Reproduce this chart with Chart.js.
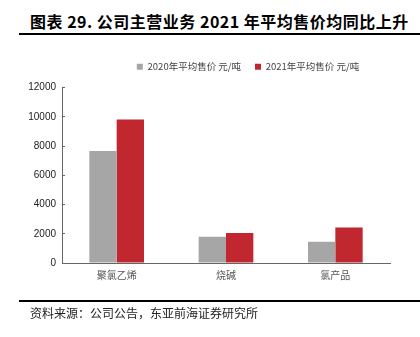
<!DOCTYPE html>
<html>
<head>
<meta charset="utf-8">
<script src="https://cdn.jsdelivr.net/npm/chart.js@4/dist/chart.umd.min.js"></script>
<style>
    body { margin: 0; width: 420px; height: 337px; background: #fff; position: relative; overflow: hidden; }
    #chartBox { position: absolute; left: 0; top: 0; width: 420px; height: 337px; }
    .title { position: absolute; left: 30px; top: 9px; line-height: 24px; font: bold 16px "Noto Sans CJK SC", sans-serif; color: #000; white-space: nowrap; letter-spacing: 0.5px; }
    .rule { position: absolute; left: 19px; right: 0; height: 2px; background: #000; }
    .source { position: absolute; left: 30px; top: 304px; font: 12px "Noto Sans CJK SC", serif; color: #222; white-space: nowrap; }
</style>
</head>
<body>
<div class="title">图表 29. 公司主营业务 2021 年平均售价均同比上升</div>
<div class="rule" style="top:33px"></div>
<div id="chartBox"><canvas id="priceChart"></canvas></div>
<div class="rule" style="top:300px"></div>
<div class="source">资料来源：公司公告，东亚前海证券研究所</div>
<script>
const categories = ['聚氯乙烯', '烧碱', '氯产品'];
const price2020 = [7650, 1790, 1450];
const price2021 = [9820, 2045, 2430];
const yTicks = [0, 2000, 4000, 6000, 8000, 10000, 12000];

// the legend sits right of centre in the source picture
const legendShift = {
    id: 'legendShift',
    afterLayout(chart) {
        const lg = chart.legend;
        if (!lg) return;
        const width = lg.lineWidths ? lg.lineWidths[0] : 0;
        const target = 248 - width / 2;
        const dx = target - (lg.left + (lg.right - lg.left - width) / 2);
        lg.left += dx;
        lg.right += dx;
        lg.top -= 6;
        lg.bottom -= 6;
    },
};

new Chart(document.getElementById('priceChart'), {
    type: 'bar',
    data: {
        labels: categories,
        datasets: [
            { label: '2020年平均售价 元/吨', data: price2020, backgroundColor: '#a6a6a6' },
            { label: '2021年平均售价 元/吨', data: price2021, backgroundColor: '#c1272f' },
        ],
    },
    plugins: [legendShift],
    options: {
        responsive: true,
        maintainAspectRatio: false,
        animation: false,
        categoryPercentage: 0.5,
        barPercentage: 1.0,
        layout: { padding: { left: 0, right: 30, top: 54, bottom: 50 } },
        plugins: {
            legend: {
                position: 'top',
                labels: {
                    boxWidth: 6, boxHeight: 6, padding: 14,
                    color: '#444',
                    font: { family: '"Noto Sans CJK SC", sans-serif', size: 9.5 },
                },
            },
            tooltip: { enabled: false },
        },
        scales: {
            x: {
                grid: { display: false, drawTicks: false },
                border: { color: '#666', width: 1 },
                ticks: { color: '#555', padding: 6, font: { family: '"Noto Sans CJK SC", serif', size: 10 } },
            },
            y: {
                min: 0,
                max: 12000,
                afterFit: (scale) => { scale.width = 62; },
                afterBuildTicks: (scale) => { scale.ticks = yTicks.map((v) => ({ value: v })); },
                grid: { drawOnChartArea: false, tickLength: -3, color: '#666' },
                border: { color: '#666', width: 1 },
                ticks: {
                    color: '#222', padding: 9,
                    font: { family: '"Liberation Sans", Arial, sans-serif', size: 10 },
                    callback: (v) => String(v),
                },
            },
        },
    },
});
</script>
</body>
</html>
